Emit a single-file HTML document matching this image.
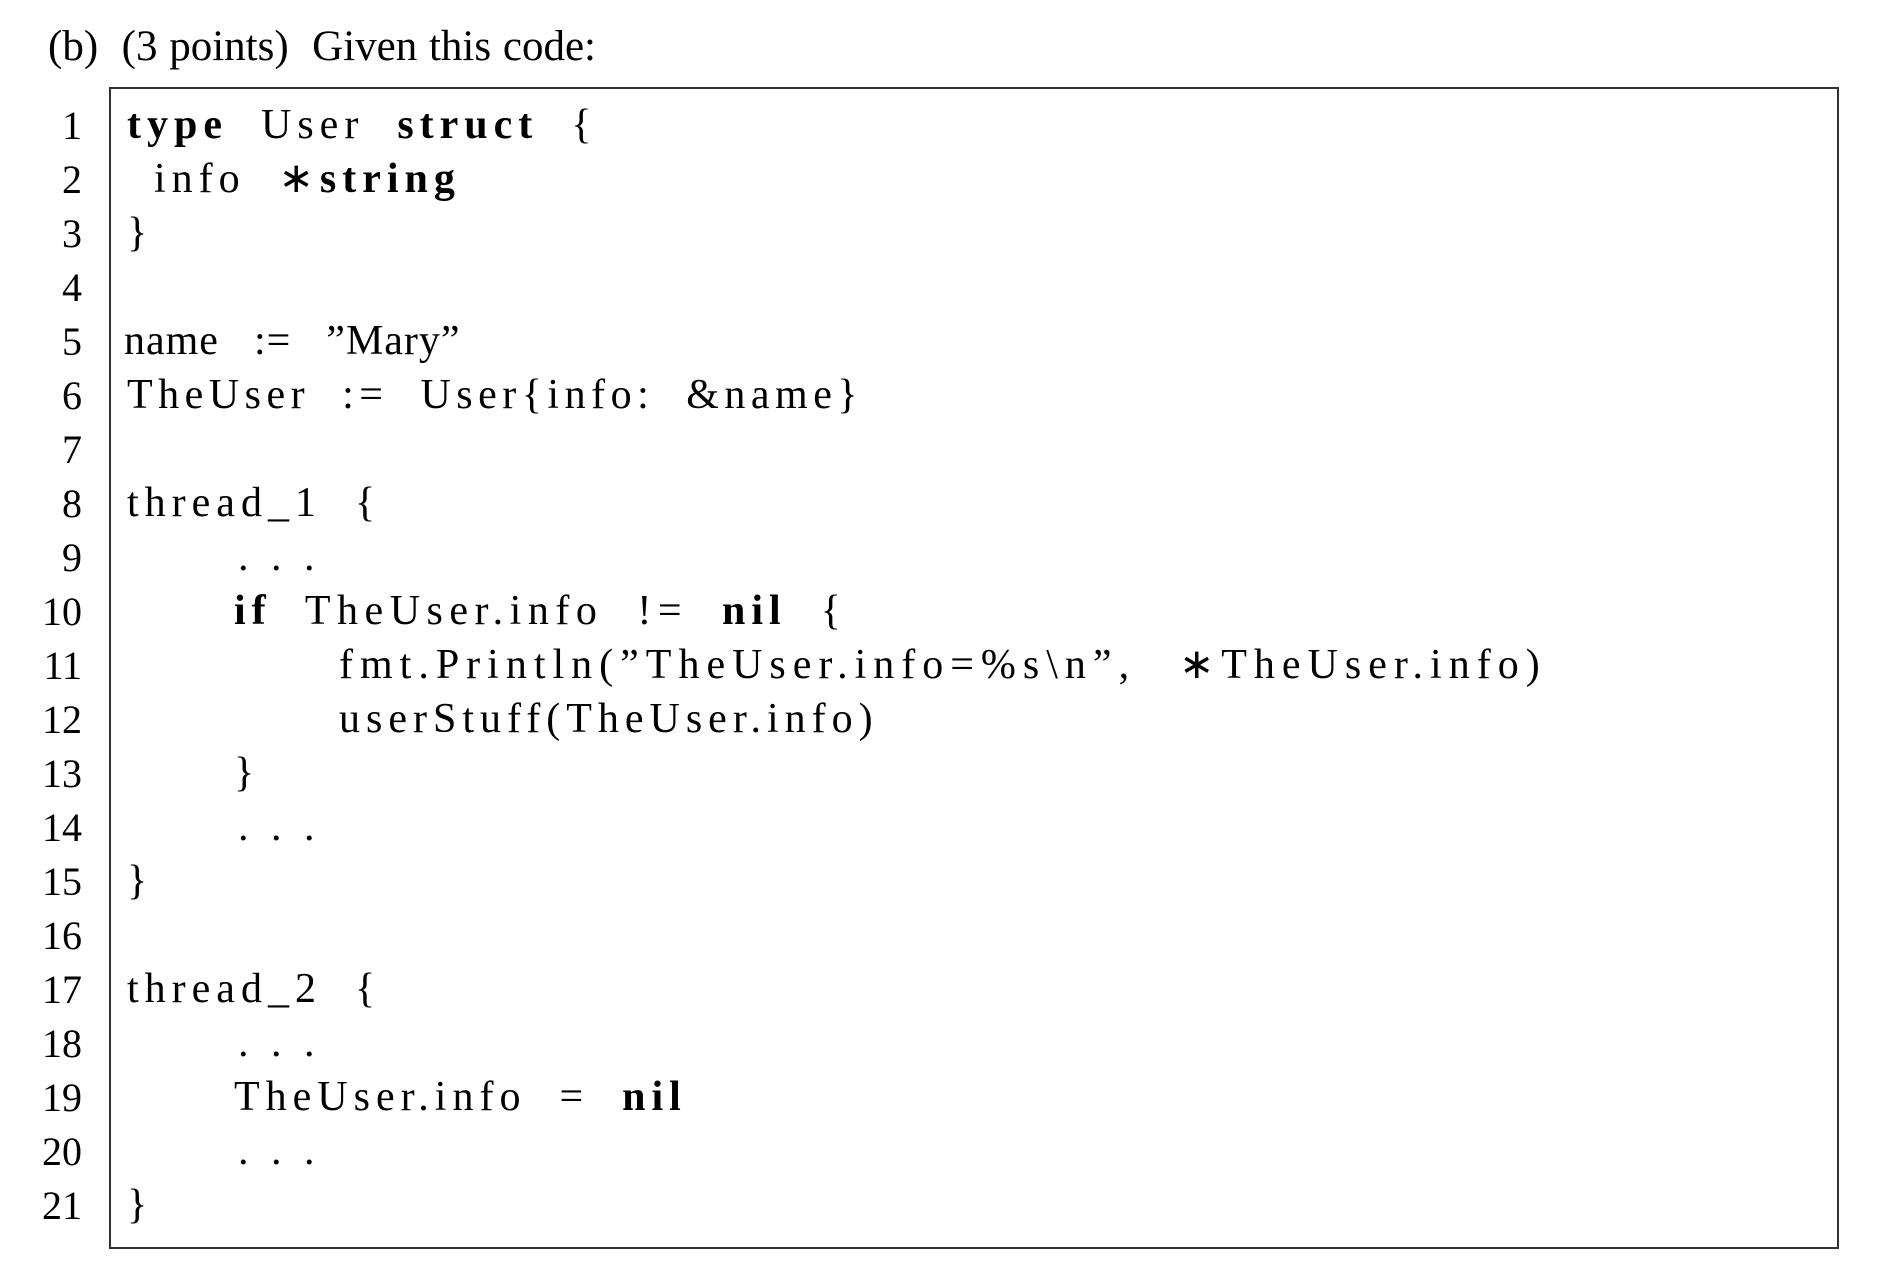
<!DOCTYPE html>
<html><head><meta charset="utf-8"><style>
body{margin:0;width:1892px;height:1286px;background:#fff;position:relative;overflow:hidden;font-family:"Liberation Serif",serif;color:#000}
.h{position:absolute;left:48px;top:27px;font-size:43px;line-height:40px;white-space:pre;word-spacing:1px}
.box{position:absolute;left:109px;top:87px;width:1726px;height:1158px;border:2px solid #333}
.n{position:absolute;width:82px;left:0;text-align:right;font-size:40px;line-height:34px;margin-top:1px}
.c{position:absolute;font-size:42px;line-height:40px;white-space:pre;letter-spacing:6px;margin-top:-3px}
b{font-weight:bold;letter-spacing:6px}
</style></head><body>
<div class="h">(b)  (3 points)  Given this code:</div>
<div class="box"></div>
<div class="n" style="top:108px">1</div>
<div class="n" style="top:162px">2</div>
<div class="n" style="top:216px">3</div>
<div class="n" style="top:270px">4</div>
<div class="n" style="top:324px">5</div>
<div class="n" style="top:378px">6</div>
<div class="n" style="top:432px">7</div>
<div class="n" style="top:486px">8</div>
<div class="n" style="top:540px">9</div>
<div class="n" style="top:594px">10</div>
<div class="n" style="top:648px">11</div>
<div class="n" style="top:702px">12</div>
<div class="n" style="top:756px">13</div>
<div class="n" style="top:810px">14</div>
<div class="n" style="top:864px">15</div>
<div class="n" style="top:918px">16</div>
<div class="n" style="top:972px">17</div>
<div class="n" style="top:1026px">18</div>
<div class="n" style="top:1080px">19</div>
<div class="n" style="top:1134px">20</div>
<div class="n" style="top:1188px">21</div>

<div class="c" style="left:127px;top:108px"><b>type</b>  User  <b>struct</b>  {</div>
<div class="c" style="left:154px;top:162px">info  ∗<b>string</b></div>
<div class="c" style="left:127px;top:216px">}</div>
<div class="c" style="left:124px;top:324px;letter-spacing:1px;word-spacing:6px">name  :=  ”Mary”</div>
<div class="c" style="left:127px;top:378px;letter-spacing:5.5px">TheUser  :=  User{info:  &amp;name}</div>
<div class="c" style="left:127px;top:486px">thread_1  {</div>
<div class="c" style="left:238px;top:540px">. . .</div>
<div class="c" style="left:234px;top:594px;letter-spacing:6.5px"><b>if</b>  TheUser.info  !=  <b>nil</b>  {</div>
<div class="c" style="left:339px;top:648px;letter-spacing:7px;word-spacing:4px">fmt.Println(”TheUser.info=%s\n”,  ∗TheUser.info)</div>
<div class="c" style="left:339px;top:702px">userStuff(TheUser.info)</div>
<div class="c" style="left:234px;top:756px">}</div>
<div class="c" style="left:238px;top:810px">. . .</div>
<div class="c" style="left:127px;top:864px">}</div>
<div class="c" style="left:127px;top:972px">thread_2  {</div>
<div class="c" style="left:238px;top:1026px">. . .</div>
<div class="c" style="left:234px;top:1080px">TheUser.info  =  <b>nil</b></div>
<div class="c" style="left:238px;top:1134px">. . .</div>
<div class="c" style="left:127px;top:1188px">}</div>
</body></html>
